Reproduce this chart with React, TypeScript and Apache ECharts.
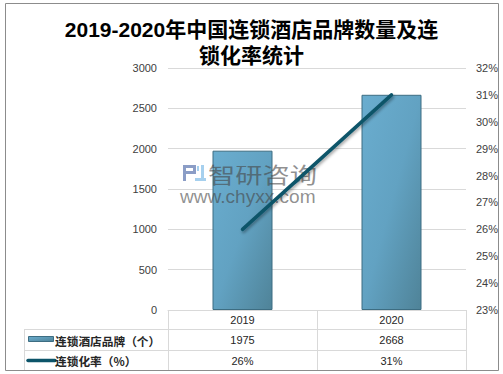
import React, { useEffect, useRef } from "react";
import * as echarts from "echarts";

const titleLines = ["2019-2020年中国连锁酒店品牌数量及连", "锁化率统计"];
const categories = ["2019", "2020"];
const brandCounts = [1975, 2668];
const chainRates = [26, 31];
const seriesNames = ["连锁酒店品牌（个）", "连锁化率（%）"];
const watermarkName = "智研咨询";
const watermarkUrl = "www.chyxx.com";

export default function App() {
  const ref = useRef<HTMLDivElement>(null);
  useEffect(() => {
    document.body.style.margin = "0";
    const chart = echarts.init(ref.current!, null, { renderer: "svg" });
    const gridLeft = 168;
    const gridRight = 466;
    const tableLine = "#d9d9d9";
    const titleStyle = {
      fontFamily: "'Liberation Sans', 'Noto Sans CJK SC'",
      fontSize: 21,
      lineHeight: 22,
      fontWeight: "bold",
      color: "#000",
    };
    const option: any = {
      animation: false,
      backgroundColor: "#fff",
      title: [
        { text: titleLines[0], left: "center", top: 18.5, padding: 0, textStyle: titleStyle },
        { text: titleLines[1], left: "center", top: 44.5, padding: 0, textStyle: titleStyle },
      ],
      grid: { left: gridLeft, right: 503 - gridRight, top: 68, bottom: 64 },
      xAxis: {
        type: "category",
        data: categories,
        axisLine: { show: true, lineStyle: { color: tableLine, width: 1 } },
        axisTick: { show: true, length: 61, interval: 0, lineStyle: { color: tableLine } },
        axisLabel: {
          margin: 0,
          interval: 0,
          fontFamily: "Liberation Sans",
          fontSize: 11,
          lineHeight: 20.3,
          color: "#262626",
          formatter: (v: string, i: number) =>
            `${v}\n${brandCounts[i]}\n${chainRates[i]}%`,
        },
      },
      yAxis: [
        {
          type: "value",
          min: 0,
          max: 3000,
          interval: 500,
          axisLine: { show: false },
          axisTick: { show: false },
          axisLabel: {
            margin: 11,
            fontFamily: "Liberation Sans",
            fontSize: 11,
            color: "#404040",
            formatter: (v: number) => String(v),
          },
          splitLine: { lineStyle: { color: "#d9d9d9" } },
        },
        {
          type: "value",
          min: 23,
          max: 32,
          interval: 1,
          axisLine: { show: false },
          axisTick: { show: false },
          axisLabel: {
            margin: 10,
            fontFamily: "Liberation Sans",
            fontSize: 11,
            color: "#404040",
            formatter: (v: number) => `${v}%`,
          },
          splitLine: { show: false },
        },
      ],
      series: [
        {
          name: seriesNames[0],
          type: "bar",
          data: brandCounts,
          barWidth: 60,
          z: 2,
          itemStyle: {
            borderColor: "#3d6d82",
            borderWidth: 1,
            color: new echarts.graphic.LinearGradient(0, 0, 1, 1, [
              { offset: 0, color: "#6aadcf" },
              { offset: 0.5, color: "#62a2c2" },
              { offset: 1, color: "#4f8398" },
            ]),
          },
        },
        {
          name: seriesNames[1],
          type: "line",
          yAxisIndex: 1,
          data: chainRates,
          symbol: "none",
          z: 5,
          lineStyle: {
            color: "#0c5469",
            width: 3.5,
            cap: "round",
            shadowColor: "rgba(0,0,0,0.35)",
            shadowBlur: 3,
            shadowOffsetX: 1,
            shadowOffsetY: 2,
          },
        },
      ],
      graphic: [
        {
          type: "rect",
          shape: { x: 5.5, y: 3.5, width: 493, height: 367 },
          style: { fill: "none", stroke: "#8c8c8c", lineWidth: 1 },
          z: 10,
        },
        { type: "line", shape: { x1: 24, y1: 329.5, x2: gridRight, y2: 329.5 }, style: { stroke: tableLine, lineWidth: 1 } },
        { type: "line", shape: { x1: 24, y1: 350.5, x2: gridRight, y2: 350.5 }, style: { stroke: tableLine, lineWidth: 1 } },
        { type: "line", shape: { x1: 24.5, y1: 329.5, x2: 24.5, y2: 371 }, style: { stroke: tableLine, lineWidth: 1 } },
        {
          type: "rect",
          shape: { x: 28.5, y: 336.5, width: 25, height: 5 },
          style: {
            fill: new echarts.graphic.LinearGradient(0, 0, 1, 1, [
              { offset: 0, color: "#6aadcf" },
              { offset: 1, color: "#4f8398" },
            ]),
            stroke: "#3d6d82",
            lineWidth: 1,
          },
        },
        {
          type: "text",
          x: 55,
          y: 340,
          style: {
            text: seriesNames[0],
            fontFamily: "Noto Sans CJK SC",
            fontSize: 11.7,
            fontWeight: "bold",
            fill: "#262626",
            verticalAlign: "middle",
          },
        },
        {
          type: "line",
          shape: { x1: 28, y1: 360.5, x2: 55, y2: 360.5 },
          style: { stroke: "#0c5469", lineWidth: 3.5, lineCap: "round" },
        },
        {
          type: "text",
          x: 55,
          y: 360,
          style: {
            text: seriesNames[1],
            fontFamily: "Noto Sans CJK SC",
            fontSize: 11.7,
            fontWeight: "bold",
            fill: "#262626",
            verticalAlign: "middle",
          },
        },
        {
          type: "group",
          z: 3,
          children: [
            { type: "rect", shape: { x: 183, y: 165, width: 13, height: 3 }, style: { fill: "#8b9dc6" } },
            { type: "rect", shape: { x: 183, y: 165, width: 3, height: 16 }, style: { fill: "#8b9dc6" } },
            { type: "rect", shape: { x: 193, y: 165, width: 3, height: 9 }, style: { fill: "#8b9dc6" } },
            { type: "rect", shape: { x: 186, y: 171, width: 10, height: 3 }, style: { fill: "#8b9dc6" } },
            { type: "rect", shape: { x: 201, y: 165, width: 3, height: 15 }, style: { fill: "#a6d0ee" } },
            { type: "rect", shape: { x: 195, y: 178, width: 11, height: 3 }, style: { fill: "#a6d0ee" } },
            { type: "rect", shape: { x: 197, y: 166, width: 2, height: 5 }, style: { fill: "#a6d0ee" } },
          ],
        },
        {
          type: "text",
          z: 3,
          x: 208,
          y: 173,
          scaleX: 1.24,
          style: {
            text: watermarkName,
            fontFamily: "Noto Sans CJK SC",
            fontSize: 22,
            fill: "rgba(70,70,70,0.6)",
            verticalAlign: "middle",
          },
        },
        {
          type: "text",
          z: 3,
          x: 180,
          y: 197,
          scaleX: 1.06,
          style: {
            text: watermarkUrl,
            fontFamily: "Liberation Sans",
            fontSize: 18,
            fill: "rgba(70,70,70,0.6)",
            verticalAlign: "middle",
          },
        },
      ],
    };
    chart.setOption(option);
    return () => chart.dispose();
  }, []);
  return <div ref={ref} style={{ width: 503, height: 374 }} />;
}
